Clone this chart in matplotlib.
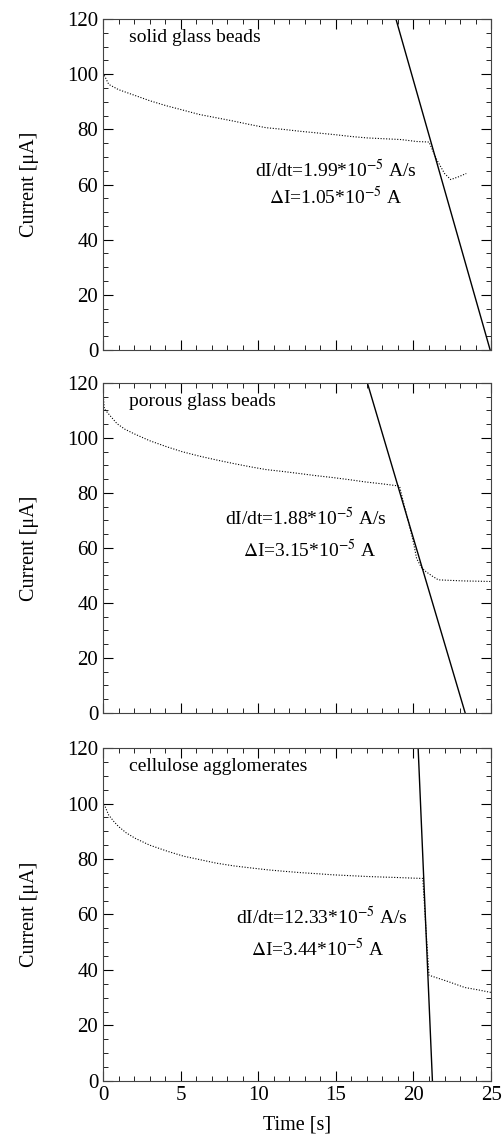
import matplotlib
matplotlib.use('Agg')
import matplotlib.pyplot as plt
from matplotlib.ticker import MultipleLocator

plt.rcParams['font.family'] = ['Liberation Serif', 'DejaVu Serif']
plt.rcParams['mathtext.fontset'] = 'stix'

# ---- data ----
# panel 1: solid glass beads
t_solid = [0, 0.37, 1.0, 1.9, 3.0, 4.05, 5.0, 6.2, 7.3, 8.4, 9.5, 10.5, 11.6, 12.7, 13.8,
           14.9, 16.0, 17.0, 18.1, 19.2, 20.2, 21.0, 21.5, 22.0, 22.4, 22.9, 23.4]
i_solid = [100.5, 96.3, 94.4, 92.6, 90.4, 88.6, 87.2, 85.4, 84.2, 83.0, 81.7, 80.6, 80.0, 79.3,
           78.7, 78.1, 77.4, 76.9, 76.6, 76.3, 75.6, 75.4, 69.0, 64.0, 61.8, 62.8, 64.0]
fit_solid_t = [18.87, 24.94]
fit_solid_i = [120, 0]

# panel 2: porous glass beads
t_porous = [0, 0.08, 0.5, 0.9, 1.4, 1.97, 3.0, 4.1, 5.1, 6.2, 7.3, 8.4, 9.5, 10.5, 11.6,
            12.6, 13.7, 14.8, 15.9, 16.9, 18.0, 19.1, 19.4, 19.7, 20.0, 20.2, 20.5, 20.8,
            21.2, 21.6, 22.4, 23.3, 24.2, 25.0]
i_porous = [117.3, 110.6, 107.8, 105.2, 103.2, 101.6, 99.0, 96.8, 95.0, 93.4, 92.0, 90.7, 89.5,
            88.5, 87.8, 87.1, 86.3, 85.6, 84.8, 84.0, 83.3, 82.5, 75.5, 68.9, 62.0, 56.2, 53.0,
            51.4, 49.8, 48.4, 48.2, 48.0, 47.9, 47.8]
fit_porous_t = [17.03, 23.33]
fit_porous_i = [120, 0]

# panel 3: cellulose agglomerates
t_cell = [0, 0.36, 0.7, 1.0, 1.5, 2.06, 3.0, 4.2, 5.2, 6.3, 7.3, 8.45, 9.5, 10.6, 11.6,
          12.7, 13.8, 14.8, 15.9, 17.0, 18.0, 19.1, 20.0, 20.6, 20.8, 21.0, 21.6, 22.3,
          22.8, 23.3, 24.2, 25.0]
i_cell = [100.7, 95.9, 93.5, 91.7, 89.4, 87.5, 85.0, 82.7, 81.0, 79.7, 78.5, 77.5, 76.8, 76.1,
          75.6, 75.1, 74.7, 74.3, 74.0, 73.7, 73.5, 73.3, 73.1, 73.0, 55.0, 38.1, 37.0, 35.7,
          34.7, 33.7, 32.8, 31.9]
fit_cell_t = [20.3, 21.22]
fit_cell_i = [120, 0]

panels = [
    ('solid glass beads', t_solid, i_solid, fit_solid_t, fit_solid_i,
     r'dI/dt=1.99*10$^{-5}$ A/s', r'$\Delta$I=1.05*10$^{-5}$ A', (15.0, 65.3), (15.0, 55.5)),
    ('porous glass beads', t_porous, i_porous, fit_porous_t, fit_porous_i,
     r'dI/dt=1.88*10$^{-5}$ A/s', r'$\Delta$I=3.15*10$^{-5}$ A', (13.1, 70.9), (13.3, 59.3)),
    ('cellulose agglomerates', t_cell, i_cell, fit_cell_t, fit_cell_i,
     r'dI/dt=12.33*10$^{-5}$ A/s', r'$\Delta$I=3.44*10$^{-5}$ A', (14.1, 59.1), (13.8, 47.5)),
]

fig = plt.figure(figsize=(5.04, 11.38), dpi=100)
boxes = [
    [0.2044, 0.6924, 0.770, 0.2909],
    [0.2044, 0.3735, 0.770, 0.2900],
    [0.2044, 0.0501, 0.770, 0.2926],
]

for k, (name, t, cur, ft, fi, txt1, txt2, p1, p2) in enumerate(panels):
    ax = fig.add_axes(boxes[k])
    ax.plot(t, cur, color='black', linestyle=(0, (1, 1.5)), linewidth=0.8)
    ax.plot(ft, fi, color='black', linewidth=1.0)
    ax.set_xlim(0, 25)
    ax.set_ylim(0, 120)
    ax.xaxis.set_major_locator(MultipleLocator(5))
    ax.xaxis.set_minor_locator(MultipleLocator(1))
    ax.yaxis.set_major_locator(MultipleLocator(20))
    ax.yaxis.set_minor_locator(MultipleLocator(5))
    ax.tick_params(which='both', direction='in', top=True, right=True, labelsize=15)
    ax.tick_params(which='major', length=7, width=0.8)
    ax.tick_params(which='minor', length=3.5, width=0.6)
    for sp in ax.spines.values():
        sp.set_linewidth(0.8)
        sp.set_color('#444444')
    ax.set_ylabel('Current [μA]', fontsize=14.5, labelpad=20)
    ax.text(1.7, 113.3, name, fontsize=14, ha='left', va='center')
    ax.text(p1[0], p1[1], txt1, fontsize=14, ha='center', va='center')
    ax.text(p2[0], p2[1], txt2, fontsize=14, ha='center', va='center')
    if k < 2:
        ax.tick_params(labelbottom=False)
    else:
        ax.set_xlabel('Time [s]', fontsize=14.5, labelpad=8)

plt.savefig('out.png', dpi=100, facecolor='white')
plt.close()
